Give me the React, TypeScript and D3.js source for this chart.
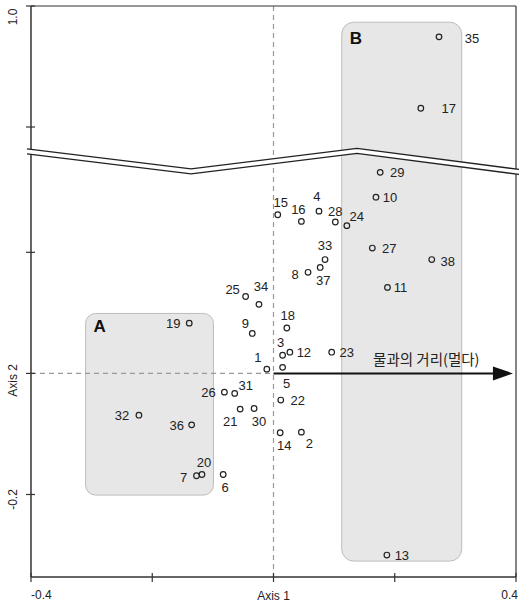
import React from "react";
import * as d3 from "d3";

// Site numbers and ordination scores (Axis 1, Axis 2)
const ids = [1,2,3,4,5,6,7,8,9,10,11,12,13,14,15,16,17,18,19,20,21,22,23,24,25,26,27,28,29,30,31,32,33,34,35,36,37,38];
const axis1 = [-0.011,0.046,0.015,0.075,0.015,-0.083,-0.127,0.057,-0.035,0.169,0.188,0.027,0.187,0.011,0.007,0.046,0.243,0.022,-0.139,-0.118,-0.055,0.012,0.096,0.121,-0.046,-0.081,0.163,0.102,0.176,-0.032,-0.064,-0.222,0.085,-0.024,0.273,-0.135,0.077,0.261];
const axis2 = [0.007,-0.097,0.030,0.268,0.010,-0.167,-0.169,0.167,0.066,0.291,0.142,0.035,-0.300,-0.098,0.262,0.251,0.831,0.075,0.083,-0.167,-0.059,-0.044,0.035,0.244,0.127,-0.031,0.207,0.250,0.332,-0.058,-0.033,-0.069,0.188,0.114,0.949,-0.085,0.175,0.188];
// label offsets (px) relative to each point
const labelDx = [-9,8,-2,-2,4,2,-13,-13,-7,14,13,14,15,4,3,-3,28,1,-16,2,-10,17,15,10,-13,-16,17,0,17,5,11,-17,0,2,33,-15,3,16];
const labelDy = [-12,11,-13,-15,16,13,2,2,-10,0,0,0,0,13,-12,-12,0,-13,0,-12,12,0,0,-9,-7,0,0,-11,0,13,-8,0,-14,-18,2,1,13,2];

const xTicks = [-0.4, -0.2, 0, 0.2, 0.4];
const yTicksLower = [-0.2, 0, 0.2];
const yTicksUpper = [0.8, 1.0];
const xTickLabels = ["-0.4", "Axis 1", "0.4"];
const yTickLabels = ["1.0", "-0.2"];
const arrowLabel = "물과의 거리(멀다)";
// group boxes: [x0, x1, y0, y1] in data units
const boxA = [-0.31, -0.099, -0.201, 0.099];
const boxB = [0.1125, 0.3105, -0.31, 0.58];
// axis break polyline (data units, lower scale)
const breakX = [-0.4066, -0.136, 0.1377, 0.405];
const breakY = [0.3666, 0.3336, 0.3674, 0.3327];

const W = 519, H = 605;
const L = 31, R = 516, T = 6, B = 577;

export default function App() {
  const x = d3.scaleLinear().domain([-0.4, 0.4]).range([L, R]);
  const yLow = d3.scaleLinear().domain([-0.2, 0.2]).range([494.5, 252.3]);
  const yUp = d3.scaleLinear().domain([0.8, 1.0]).range([127, T]);
  const y = (v: number) => (v > 0.6 ? yUp(v) : yLow(v));

  const pts = ids.map((id, i) => ({ id, px: x(axis1[i]), py: y(axis2[i]), dx: labelDx[i], dy: labelDy[i] }));

  const line = d3.line<[number, number]>();
  const bTop = breakX.map((bx, i) => [x(bx), yLow(breakY[i]) - 2.5] as [number, number]);
  const bBot = breakX.map((bx, i) => [x(bx), yLow(breakY[i]) + 2.5] as [number, number]);
  const band = [...bTop, ...bBot.slice().reverse()];

  const box = (b: number[]) => ({ x: x(b[0]), y: yLow(b[3]), w: x(b[1]) - x(b[0]), h: yLow(b[2]) - yLow(b[3]) });
  const a = box(boxA), bb = box(boxB);
  const y0 = yLow(0), x0 = x(0);
  const font = "Liberation Sans, Arial, sans-serif";

  return (
    <svg width={W} height={H} style={{ position: "absolute", left: 0, top: 0, background: "#fff" }} fontFamily={font}>
      <rect x={0} y={0} width={W} height={H} fill="#fff" />
      {/* boxes */}
      <rect x={a.x} y={a.y} width={a.w} height={a.h} rx={10} fill="#e7e7e7" stroke="#bdbdbd" strokeWidth={1} />
      <rect x={bb.x} y={bb.y} width={bb.w} height={bb.h} rx={12} fill="#e7e7e7" stroke="#bdbdbd" strokeWidth={1} />
      <text x={a.x + 8} y={a.y + 19} fontSize={17} fontWeight="bold" fill="#111">A</text>
      <text x={bb.x + 8} y={bb.y + 22} fontSize={17} fontWeight="bold" fill="#111">B</text>
      {/* dashed reference lines */}
      <line x1={x0} x2={x0} y1={T} y2={B} stroke="#999" strokeWidth={1.2} strokeDasharray="5,4" />
      <line x1={L} x2={x0} y1={y0} y2={y0} stroke="#999" strokeWidth={1.2} strokeDasharray="5,4" />
      {/* arrow */}
      <line x1={x0} x2={x(0.365)} y1={y0} y2={y0} stroke="#111" strokeWidth={2} />
      <path d={`M${x(0.362)},${y0 - 7}L${x(0.395)},${y0}L${x(0.362)},${y0 + 7}Z`} fill="#111" />
      <text x={x(0.252)} y={y0 - 8} fontSize={14.5} textAnchor="middle" fill="#222" fontFamily="Noto Sans CJK KR, sans-serif">{arrowLabel}</text>
      {/* frame */}
      <line x1={L} x2={R} y1={T} y2={T} stroke="#333" strokeWidth={1.2} />
      <line x1={R} x2={R} y1={T} y2={B} stroke="#333" strokeWidth={1.2} />
      <line x1={L} x2={L} y1={T} y2={B} stroke="#333" strokeWidth={1.5} />
      <line x1={L} x2={R} y1={B} y2={B} stroke="#333" strokeWidth={1.5} />
      {xTicks.map((t) => (
        <line key={"xt" + t} x1={x(t)} x2={x(t)} y1={B - 4} y2={B + 5} stroke="#333" strokeWidth={1.2} />
      ))}
      {yTicksLower.map((t) => (
        <line key={"yl" + t} x1={L - 5} x2={L + 4} y1={yLow(t)} y2={yLow(t)} stroke="#333" strokeWidth={1.2} />
      ))}
      {yTicksUpper.map((t) => (
        <line key={"yu" + t} x1={L - 5} x2={L + 4} y1={yUp(t)} y2={yUp(t)} stroke="#333" strokeWidth={1.2} />
      ))}
      {/* axis break */}
      <path d={line(band as [number, number][]) + "Z"} fill="#fff" stroke="none" />
      <path d={line(bTop) || ""} fill="none" stroke="#222" strokeWidth={1.3} />
      <path d={line(bBot) || ""} fill="none" stroke="#222" strokeWidth={1.3} />
      {/* points */}
      {pts.map((p) => (
        <g key={p.id}>
          <circle cx={p.px} cy={p.py} r={2.8} fill="none" stroke="#222" strokeWidth={1.2} />
          <text x={p.px + p.dx} y={p.py + p.dy} dy="0.35em" fontSize={13} textAnchor="middle" fill="#222">{p.id}</text>
        </g>
      ))}
      {/* tick labels */}
      <text x={x(-0.4)} y={599} fontSize={12} fill="#222">{xTickLabels[0]}</text>
      <text x={x(0)} y={600} fontSize={12} textAnchor="middle" fill="#222">{xTickLabels[1]}</text>
      <text x={W - 1} y={599} fontSize={12} textAnchor="end" fill="#222">{xTickLabels[2]}</text>
      <text transform={`translate(17,${yUp(1.0) + 11}) rotate(-90)`} fontSize={12} textAnchor="middle" fill="#222">{yTickLabels[0]}</text>
      <text transform={`translate(17,${yLow(-0.2) + 5}) rotate(-90)`} fontSize={12} textAnchor="middle" fill="#222">{yTickLabels[1]}</text>
      <text transform={`translate(17,${y0 + 7}) rotate(-90)`} fontSize={12} textAnchor="middle" fill="#222">Axis 2</text>
    </svg>
  );
}
